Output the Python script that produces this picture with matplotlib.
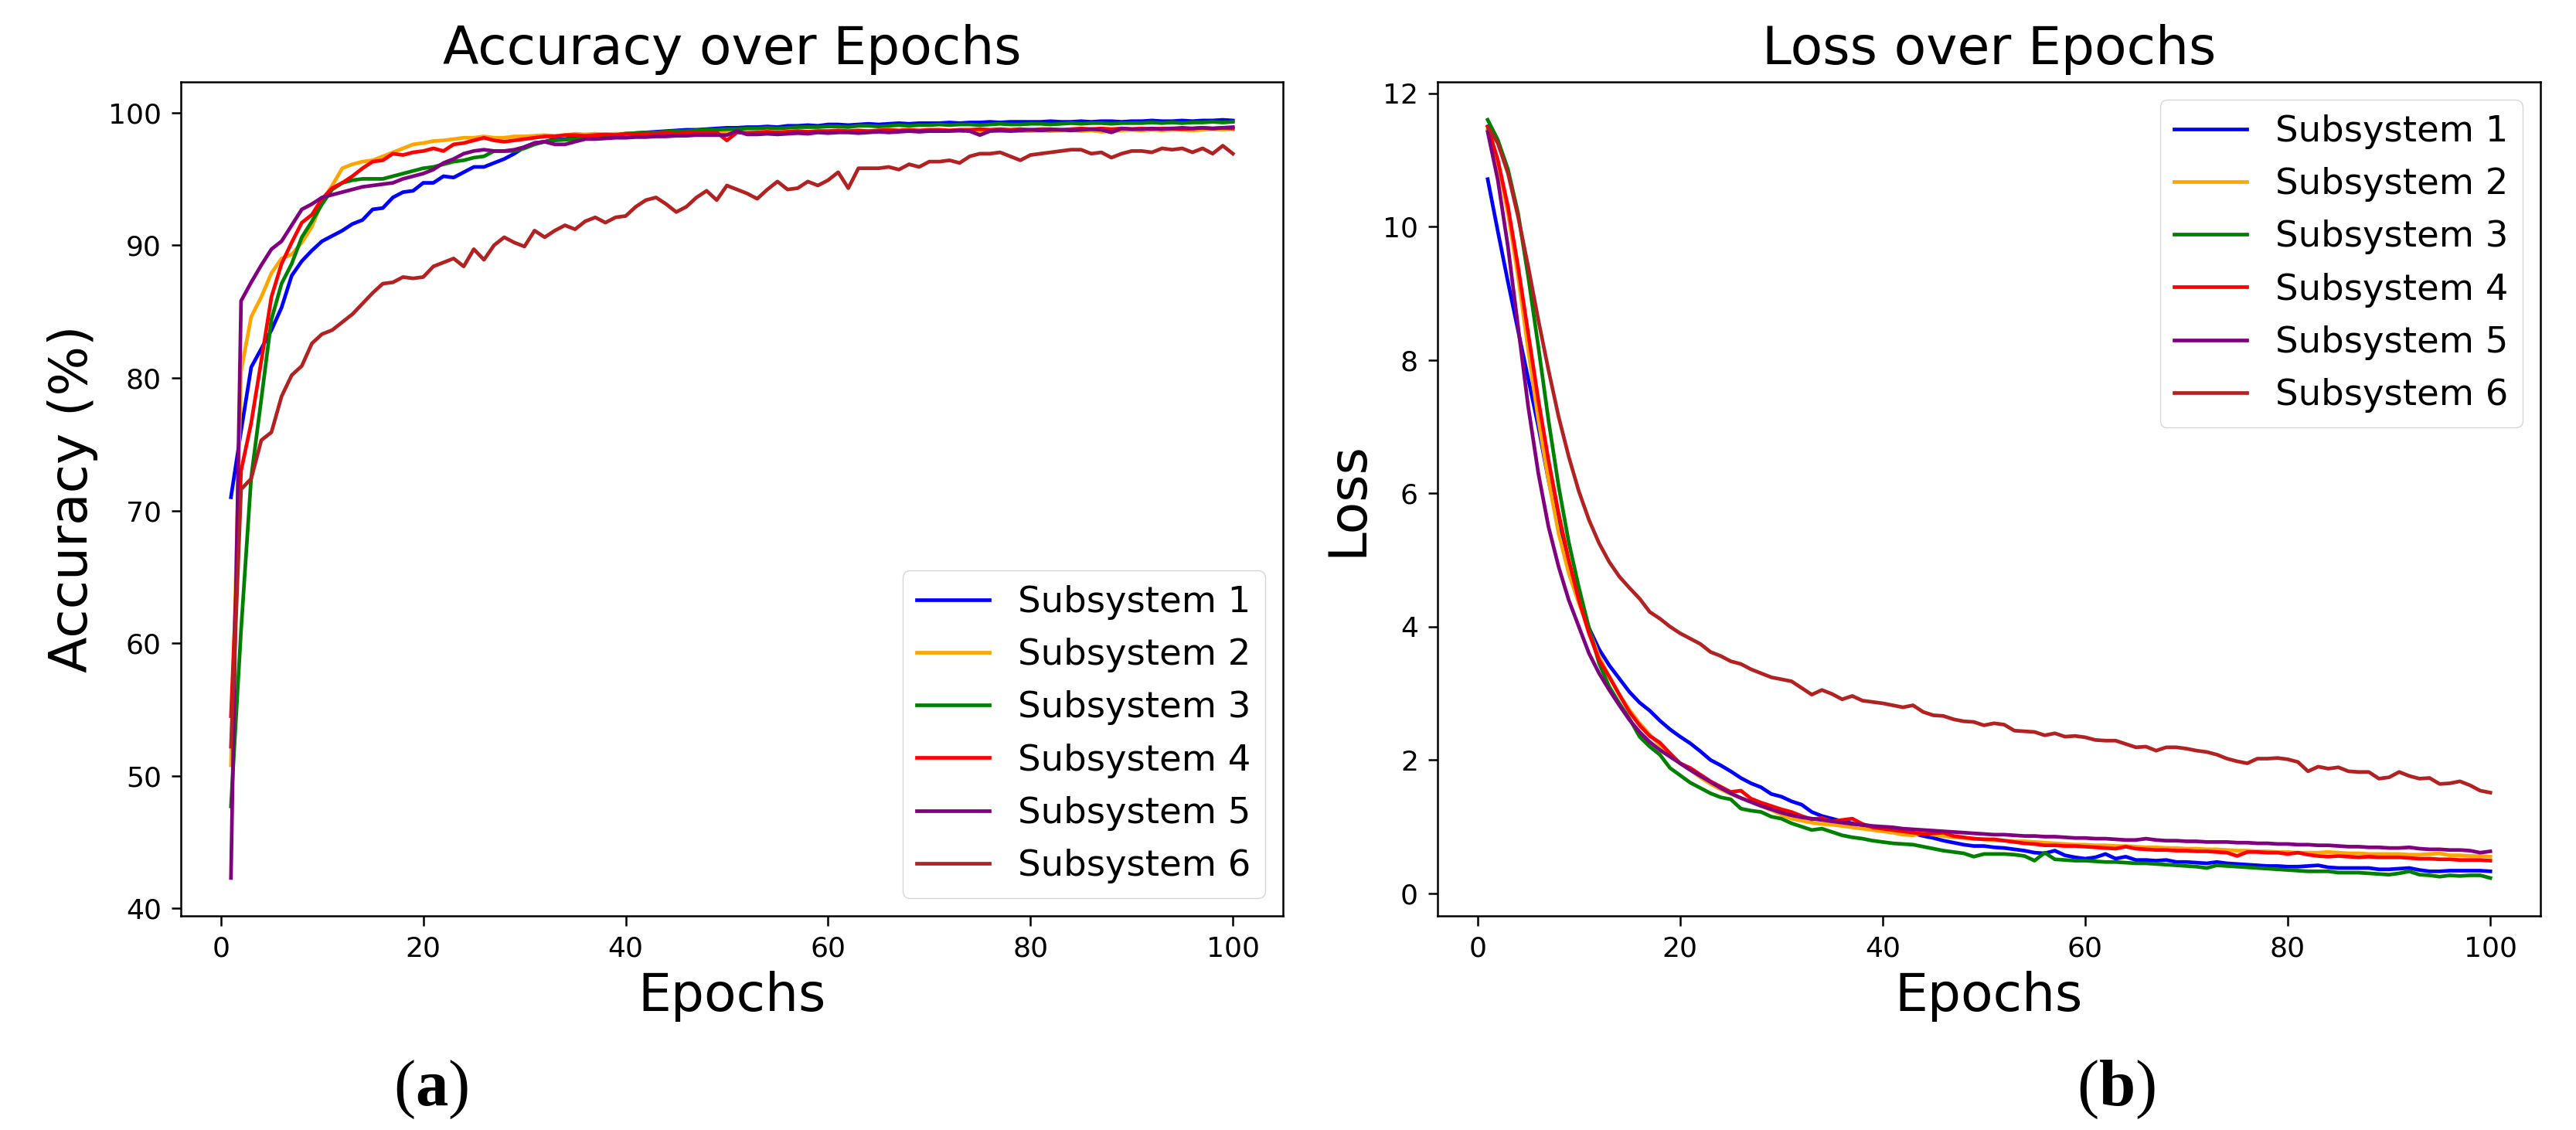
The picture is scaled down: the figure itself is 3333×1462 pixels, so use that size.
import numpy as np
import matplotlib
matplotlib.use("Agg")
import matplotlib.pyplot as plt

epochs = list(range(1, 101))
names = ["Subsystem 1", "Subsystem 2", "Subsystem 3", "Subsystem 4", "Subsystem 5", "Subsystem 6"]
colors = ["blue", "orange", "green", "red", "purple", "firebrick"]

acc_s1 = [71.0, 76.0, 80.8, 82.2, 83.6, 85.3, 87.7, 88.8, 89.6, 90.3,
          90.7, 91.1, 91.6, 91.9, 92.7, 92.8, 93.6, 94.0, 94.1, 94.7,
          94.7, 95.2, 95.1, 95.5, 95.9, 95.9, 96.2, 96.5, 96.9, 97.4,
          97.7, 97.8, 98.0, 98.0, 98.1, 98.2, 98.25, 98.3, 98.35, 98.4,
          98.45, 98.5, 98.55, 98.6, 98.65, 98.7, 98.7, 98.75, 98.8, 98.85,
          98.85, 98.9, 98.9, 98.95, 98.9, 99.0, 99.0, 99.05, 99.0, 99.1,
          99.1, 99.05, 99.1, 99.15, 99.1, 99.15, 99.2, 99.15, 99.2, 99.2,
          99.2, 99.25, 99.2, 99.25, 99.25, 99.3, 99.25, 99.3, 99.3, 99.3,
          99.3, 99.35, 99.3, 99.3, 99.35, 99.3, 99.35, 99.35, 99.3, 99.35,
          99.35, 99.4, 99.35, 99.35, 99.4, 99.35, 99.4, 99.4, 99.45, 99.4]
acc_s2 = [50.8, 80.5, 84.6, 86.1, 87.9, 89.0, 89.3, 90.2, 91.4, 93.3,
          94.5, 95.8, 96.1, 96.3, 96.4, 96.7, 97.0, 97.3, 97.6, 97.7,
          97.85, 97.9, 98.0, 98.1, 98.1, 98.2, 98.1, 98.1, 98.2, 98.2,
          98.25, 98.3, 98.25, 98.3, 98.4, 98.35, 98.4, 98.35, 98.4, 98.4,
          98.45, 98.4, 98.45, 98.5, 98.45, 98.5, 98.5, 98.45, 98.5, 98.5,
          98.55, 98.5, 98.5, 98.55, 98.5, 98.55, 98.6, 98.55, 98.6, 98.6,
          98.6, 98.55, 98.6, 98.6, 98.65, 98.6, 98.6, 98.65, 98.6, 98.65,
          98.6, 98.65, 98.6, 98.6, 98.5, 98.65, 98.6, 98.65, 98.6, 98.6,
          98.65, 98.6, 98.65, 98.7, 98.6, 98.65, 98.55, 98.6, 98.65, 98.7,
          98.65, 98.7, 98.65, 98.7, 98.7, 98.65, 98.7, 98.75, 98.7, 98.75]
acc_s3 = [47.7, 61.0, 72.5, 78.4, 84.4, 87.1, 88.6, 90.6, 91.8, 93.1,
          94.2, 94.7, 94.9, 95.0, 95.0, 95.0, 95.2, 95.4, 95.6, 95.8,
          95.9, 96.1, 96.3, 96.4, 96.6, 96.7, 97.1, 97.1, 97.1, 97.3,
          97.6, 97.8, 97.9, 97.95, 98.0, 98.1, 98.2, 98.25, 98.3, 98.4,
          98.45, 98.5, 98.5, 98.55, 98.6, 98.6, 98.65, 98.7, 98.7, 98.75,
          98.75, 98.8, 98.8, 98.85, 98.8, 98.85, 98.9, 98.9, 98.9, 98.95,
          98.95, 98.9, 99.0, 99.0, 98.95, 99.0, 99.05, 99.0, 99.05, 99.05,
          99.1, 99.05, 99.1, 99.1, 99.05, 99.1, 99.15, 99.1, 99.1, 99.15,
          99.15, 99.1, 99.15, 99.2, 99.15, 99.2, 99.2, 99.15, 99.2, 99.2,
          99.2, 99.25, 99.2, 99.25, 99.2, 99.25, 99.25, 99.3, 99.25, 99.3]
acc_s4 = [54.5, 73.0, 76.6, 81.3, 86.1, 88.6, 90.2, 91.7, 92.3, 93.5,
          94.3, 94.7, 95.2, 95.8, 96.3, 96.4, 96.9, 96.8, 97.0, 97.1,
          97.3, 97.1, 97.6, 97.7, 97.9, 98.1, 97.9, 97.8, 97.9, 98.0,
          98.1, 98.2, 98.2, 98.3, 98.3, 98.25, 98.3, 98.35, 98.3, 98.4,
          98.35, 98.4, 98.4, 98.45, 98.4, 98.45, 98.5, 98.45, 98.5, 97.9,
          98.5, 98.45, 98.5, 98.55, 98.5, 98.55, 98.6, 98.55, 98.6, 98.6,
          98.65, 98.6, 98.65, 98.6, 98.65, 98.7, 98.65, 98.7, 98.65, 98.7,
          98.7, 98.65, 98.7, 98.7, 98.75, 98.7, 98.75, 98.7, 98.75, 98.7,
          98.75, 98.75, 98.7, 98.75, 98.8, 98.75, 98.8, 98.75, 98.8, 98.75,
          98.8, 98.75, 98.8, 98.8, 98.75, 98.8, 98.85, 98.8, 98.85, 98.8]
acc_s5 = [42.3, 85.8, 87.2, 88.5, 89.7, 90.3, 91.5, 92.7, 93.1, 93.6,
          93.8, 94.0, 94.2, 94.4, 94.5, 94.6, 94.7, 95.0, 95.2, 95.4,
          95.7, 96.2, 96.5, 96.9, 97.1, 97.2, 97.1, 97.1, 97.2, 97.4,
          97.7, 97.8, 97.6, 97.6, 97.8, 98.0, 98.0, 98.05, 98.1, 98.1,
          98.15, 98.15, 98.2, 98.2, 98.25, 98.25, 98.3, 98.3, 98.3, 98.3,
          98.6, 98.35, 98.35, 98.4, 98.35, 98.4, 98.45, 98.4, 98.5, 98.45,
          98.5, 98.5, 98.45, 98.5, 98.55, 98.5, 98.55, 98.6, 98.55, 98.6,
          98.6, 98.6, 98.65, 98.6, 98.3, 98.6, 98.65, 98.6, 98.65, 98.7,
          98.65, 98.7, 98.7, 98.65, 98.7, 98.75, 98.7, 98.5, 98.8, 98.75,
          98.75, 98.8, 98.75, 98.8, 98.85, 98.8, 98.85, 98.8, 98.85, 98.9]
acc_s6 = [52.2, 71.6, 72.4, 75.3, 75.9, 78.6, 80.2, 80.9, 82.6, 83.3,
          83.6, 84.2, 84.8, 85.6, 86.4, 87.1, 87.2, 87.6, 87.5, 87.6,
          88.4, 88.7, 89.0, 88.4, 89.7, 88.9, 90.0, 90.6, 90.2, 89.9,
          91.1, 90.6, 91.1, 91.5, 91.2, 91.8, 92.1, 91.7, 92.1, 92.2,
          92.9, 93.4, 93.6, 93.1, 92.5, 92.9, 93.6, 94.1, 93.4, 94.5,
          94.2, 93.9, 93.5, 94.2, 94.8, 94.2, 94.3, 94.8, 94.5, 94.9,
          95.5, 94.3, 95.8, 95.8, 95.8, 95.9, 95.7, 96.1, 95.9, 96.3,
          96.3, 96.4, 96.2, 96.7, 96.9, 96.9, 97.0, 96.7, 96.4, 96.8,
          96.9, 97.0, 97.1, 97.2, 97.2, 96.9, 97.0, 96.6, 96.9, 97.1,
          97.1, 97.0, 97.3, 97.2, 97.3, 97.0, 97.3, 96.9, 97.5, 96.9]

loss_s1 = [10.71, 9.93, 9.17, 8.44, 7.72, 7.0, 6.2, 5.5, 4.9, 4.39,
           3.98, 3.66, 3.42, 3.22, 3.02, 2.86, 2.74, 2.59, 2.46, 2.35,
           2.25, 2.13, 2.0, 1.92, 1.83, 1.73, 1.65, 1.59, 1.49, 1.45,
           1.38, 1.33, 1.22, 1.16, 1.12, 1.08, 1.05, 1.01, 0.99, 0.96,
           0.94, 0.92, 0.90, 0.86, 0.83, 0.79, 0.76, 0.73, 0.71, 0.71,
           0.69, 0.68, 0.66, 0.64, 0.61, 0.60, 0.64, 0.57, 0.54, 0.52,
           0.54, 0.59, 0.52, 0.55, 0.50, 0.50, 0.49, 0.50, 0.47, 0.47,
           0.46, 0.45, 0.47, 0.45, 0.44, 0.43, 0.42, 0.41, 0.41, 0.40,
           0.40, 0.41, 0.42, 0.39, 0.38, 0.38, 0.38, 0.38, 0.36, 0.36,
           0.37, 0.38, 0.35, 0.33, 0.33, 0.34, 0.34, 0.34, 0.34, 0.33]
loss_s2 = [11.45, 10.95, 10.2, 9.25, 8.15, 7.1, 6.2, 5.4, 4.8, 4.35,
           3.95, 3.55, 3.25, 2.98, 2.75, 2.55, 2.38, 2.22, 2.08, 1.95,
           1.85, 1.74, 1.64, 1.56, 1.49, 1.43, 1.37, 1.31, 1.25, 1.18,
           1.12, 1.09, 1.06, 1.04, 1.03, 1.01, 0.99, 0.97, 0.95, 0.93,
           0.91, 0.88, 0.87, 0.91, 0.88, 0.86, 0.84, 0.83, 0.82, 0.81,
           0.80, 0.79, 0.78, 0.78, 0.77, 0.76, 0.75, 0.74, 0.73, 0.73,
           0.72, 0.72, 0.71, 0.71, 0.70, 0.69, 0.69, 0.68, 0.68, 0.67,
           0.67, 0.66, 0.66, 0.65, 0.64, 0.64, 0.63, 0.63, 0.62, 0.62,
           0.61, 0.61, 0.61, 0.62, 0.61, 0.60, 0.60, 0.59, 0.59, 0.59,
           0.59, 0.58, 0.58, 0.59, 0.60, 0.57, 0.57, 0.56, 0.56, 0.55]
loss_s3 = [11.6, 11.3, 10.86, 10.2, 9.25, 8.2, 7.1, 6.11, 5.27, 4.59,
           3.98, 3.45, 3.1, 2.85, 2.62, 2.35, 2.2, 2.08, 1.88, 1.77,
           1.66, 1.58, 1.50, 1.44, 1.41, 1.27, 1.24, 1.22, 1.15, 1.12,
           1.05, 1.00, 0.95, 0.97, 0.92, 0.87, 0.84, 0.82, 0.79, 0.77,
           0.75, 0.74, 0.73, 0.70, 0.67, 0.64, 0.62, 0.60, 0.55, 0.59,
           0.59, 0.59, 0.58, 0.56, 0.49, 0.61, 0.51, 0.50, 0.49, 0.49,
           0.48, 0.47, 0.47, 0.46, 0.45, 0.45, 0.44, 0.43, 0.42, 0.41,
           0.40, 0.38, 0.42, 0.41, 0.40, 0.39, 0.38, 0.37, 0.36, 0.35,
           0.34, 0.33, 0.33, 0.33, 0.31, 0.31, 0.31, 0.30, 0.29, 0.28,
           0.30, 0.33, 0.28, 0.27, 0.25, 0.27, 0.26, 0.27, 0.27, 0.23]
loss_s4 = [11.5, 11.0, 10.3, 9.4, 8.4, 7.4, 6.5, 5.7, 5.0, 4.4,
           3.9, 3.5, 3.25, 2.98, 2.72, 2.52, 2.36, 2.26, 2.1, 1.95,
           1.88, 1.78, 1.68, 1.6, 1.52, 1.54, 1.42, 1.36, 1.31, 1.26,
           1.22, 1.16, 1.11, 1.13, 1.08, 1.10, 1.12, 1.04, 0.99, 0.97,
           0.95, 0.93, 0.91, 0.89, 0.90, 0.91, 0.86, 0.84, 0.82, 0.81,
           0.81, 0.79, 0.77, 0.75, 0.74, 0.72, 0.72, 0.71, 0.71, 0.70,
           0.69, 0.68, 0.67, 0.70, 0.67, 0.66, 0.65, 0.65, 0.64, 0.64,
           0.63, 0.63, 0.62, 0.61, 0.56, 0.62, 0.62, 0.61, 0.61, 0.59,
           0.61, 0.58, 0.56, 0.55, 0.56, 0.55, 0.54, 0.55, 0.54, 0.54,
           0.54, 0.53, 0.52, 0.52, 0.51, 0.51, 0.50, 0.50, 0.50, 0.49]
loss_s5 = [11.42, 10.7, 9.7, 8.5, 7.3, 6.3, 5.5, 4.9, 4.4, 4.0,
           3.6, 3.3, 3.05, 2.82, 2.6, 2.42, 2.27, 2.15, 2.05, 1.95,
           1.85, 1.76, 1.67, 1.58, 1.5, 1.43, 1.37, 1.31, 1.26, 1.21,
           1.17, 1.14, 1.12, 1.10, 1.08, 1.06, 1.04, 1.03, 1.01, 1.00,
           0.99, 0.97, 0.96, 0.95, 0.94, 0.93, 0.92, 0.91, 0.90, 0.89,
           0.88, 0.88, 0.87, 0.86, 0.86, 0.85, 0.85, 0.84, 0.83, 0.83,
           0.82, 0.82, 0.81, 0.80, 0.80, 0.82, 0.80, 0.79, 0.79, 0.78,
           0.78, 0.77, 0.77, 0.77, 0.76, 0.76, 0.75, 0.75, 0.74, 0.74,
           0.73, 0.73, 0.72, 0.72, 0.71, 0.70, 0.70, 0.69, 0.69, 0.68,
           0.68, 0.69, 0.67, 0.66, 0.66, 0.65, 0.65, 0.64, 0.61, 0.63]
loss_s6 = [11.5, 11.25, 10.8, 10.15, 9.4, 8.6, 7.85, 7.15, 6.55, 6.03,
           5.6, 5.25, 4.97, 4.75, 4.58, 4.42, 4.22, 4.12, 4.0, 3.9,
           3.82, 3.74, 3.62, 3.56, 3.48, 3.44, 3.36, 3.3, 3.24, 3.21,
           3.18, 3.08, 2.98, 3.05, 2.99, 2.91, 2.96, 2.89, 2.87, 2.85,
           2.82, 2.79, 2.82, 2.72, 2.67, 2.66, 2.61, 2.58, 2.57, 2.52,
           2.55, 2.53, 2.44, 2.43, 2.42, 2.37, 2.40, 2.35, 2.36, 2.34,
           2.30, 2.29, 2.29, 2.24, 2.19, 2.20, 2.14, 2.19, 2.19, 2.17,
           2.14, 2.12, 2.08, 2.02, 1.98, 1.95, 2.02, 2.02, 2.03, 2.01,
           1.97, 1.83, 1.90, 1.87, 1.89, 1.83, 1.82, 1.82, 1.72, 1.74,
           1.82, 1.76, 1.72, 1.73, 1.64, 1.65, 1.68, 1.62, 1.54, 1.51]

acc_series = [acc_s1, acc_s2, acc_s3, acc_s4, acc_s5, acc_s6]
loss_series = [loss_s1, loss_s2, loss_s3, loss_s4, loss_s5, loss_s6]

plt.rcParams['font.family'] = ['DejaVu Sans']
plt.rcParams['mathtext.fontset'] = 'custom'
plt.rcParams['mathtext.rm'] = 'Liberation Serif'
plt.rcParams['mathtext.bf'] = 'Liberation Serif:bold'

W, H = 3333, 1462
fig = plt.figure(figsize=(W / 100, H / 100), dpi=100)
fig.patch.set_facecolor('white')

ax1 = fig.add_axes([234 / W, 1 - 1185 / H, 1426 / W, 1079 / H])
ax2 = fig.add_axes([1860 / W, 1 - 1185 / H, 1427 / W, 1079 / H])

LW = 3.4
for ax, series, title, ylabel, loc in [
        (ax1, acc_series, "Accuracy over Epochs", "Accuracy (%)", "lower right"),
        (ax2, loss_series, "Loss over Epochs", "Loss", "upper right")]:
    for vals, c, n in zip(series, colors, names):
        ax.plot(epochs, vals, color=c, lw=LW, label=n)
    ax.set_title(title, fontsize=49, pad=16.5)
    ax.set_xlabel("Epochs", fontsize=49, labelpad=9)
    ax.set_ylabel(ylabel, fontsize=49, labelpad=9)
    ax.set_xticks([0, 20, 40, 60, 80, 100])
    ax.tick_params(labelsize=26, length=9, width=1.8, pad=9)
    for s in ax.spines.values():
        s.set_linewidth(1.8)
    leg = ax.legend(loc=loc, fontsize=33.5, handlelength=2.0)

fig.text(558 / W, 1 - 1410 / H, r"($\mathbf{a}$)", fontsize=61, family='Liberation Serif',
         ha='center', va='center')
fig.text(2738 / W, 1 - 1410 / H, r"($\mathbf{b}$)", fontsize=61, family='Liberation Serif',
         ha='center', va='center')

fig.savefig("out.png", dpi=100, facecolor='white')
